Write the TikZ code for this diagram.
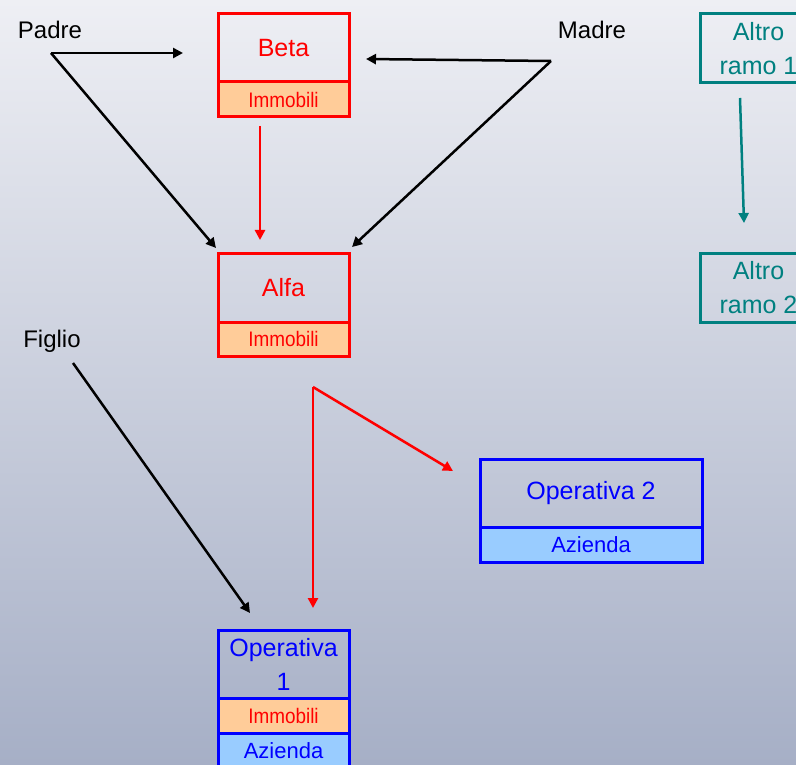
\documentclass[tikz,border=0pt]{standalone}
\usepackage{fontspec}
\setmainfont{Liberation Sans}
\newfontfamily\narrowsans[FakeStretch=0.9]{Liberation Sans}
\usetikzlibrary{arrows.meta}
\definecolor{bgtop}{RGB}{238,239,244}
\definecolor{bgbot}{RGB}{166,175,198}
\definecolor{immfill}{RGB}{255,204,153}
\definecolor{azfill}{RGB}{153,204,255}
\definecolor{tealc}{RGB}{0,128,128}
\tikzset{
  lbl/.style={font=\fontsize{24}{28}\selectfont, text=black},
  part/.style={draw, line width=3pt, inner sep=0pt, align=center},
  bigtxt/.style={font=\fontsize{25}{34}\selectfont},
  smalltxt/.style={font=\narrowsans\fontsize{21}{24}\selectfont},
  midtxt/.style={font=\fontsize{22}{26}\selectfont},
  redbox/.style={part, draw=red, text=red},
  bluebox/.style={part, draw=blue, text=blue},
  tealbox/.style={part, draw=tealc, text=tealc, bigtxt},
  immo/.style={smalltxt, fill=immfill, text=red},
  azi/.style={midtxt, fill=azfill, text=blue},
  conn/.style={line width=2.5pt, -{Triangle[length=10pt,width=10pt]}},
}
\begin{document}
\begin{tikzpicture}[x=1pt,y=-1pt]
  \useasboundingbox (0,0) rectangle (796,765);
  \clip (0,0) rectangle (796,765);
  \fill[top color=bgtop, bottom color=bgbot] (0,0) rectangle (796,765);

  % people
  \node[lbl, anchor=base] (padre) at (50,39) {Padre};
  \node[lbl, anchor=base] (madre) at (592,39) {Madre};
  \node[lbl, anchor=base] (figlio) at (52,347) {Figlio};

  % Beta
  \node[redbox, bigtxt, minimum width=131pt, minimum height=68pt] (beta) at (283.5,48) {Beta};
  \node[redbox, immo, minimum width=131pt, minimum height=35pt] (betaimm) at (283.5,99.5) {Immobili};

  % Alfa
  \node[redbox, bigtxt, minimum width=131pt, minimum height=69pt] (alfa) at (283.5,287.5) {Alfa};
  \node[redbox, immo, minimum width=131pt, minimum height=34pt] (alfaimm) at (283.5,339) {Immobili};

  % Operativa 2
  \node[bluebox, bigtxt, minimum width=222pt, minimum height=68pt] (op2) at (591,493) {Operativa 2};
  \node[bluebox, azi, minimum width=222pt, minimum height=35pt] (op2az) at (591,544.5) {Azienda};

  % Operativa 1
  \node[bluebox, bigtxt, minimum width=131pt, minimum height=68pt] (op1) at (283.5,664) {Operativa\\1};
  \node[bluebox, immo, minimum width=131pt, minimum height=35pt] (op1imm) at (283.5,715.5) {Immobili};
  \node[bluebox, azi, minimum width=131pt, minimum height=35pt] (op1az) at (283.5,750.5) {Azienda};

  % other branches
  \node[tealbox, minimum width=117pt, minimum height=69pt] (ramo1) at (758.5,48.5) {Altro\\ramo 1};
  \node[tealbox, minimum width=117pt, minimum height=69pt] (ramo2) at (758.5,287.5) {Altro\\ramo 2};

  % connector end points
  \coordinate (pA) at (51,53);
  \coordinate (pB) at (183,53);
  \coordinate (pC) at (216,248);
  \coordinate (mA) at (551,61);
  \coordinate (mB) at (366,59);
  \coordinate (mC) at (352,247);
  \coordinate (bA) at (260,126);
  \coordinate (bB) at (260,240);
  \coordinate (aA) at (313,387);
  \coordinate (aB) at (313,608);
  \coordinate (aC) at (453,471);
  \coordinate (fA) at (73,363);
  \coordinate (fB) at (250,613);
  \coordinate (rA) at (740,98);
  \coordinate (rB) at (744,223);

  \draw[conn] (pA) -- (pB);
  \draw[conn] (pA) -- (pC);
  \draw[conn] (mA) -- (mB);
  \draw[conn] (mA) -- (mC);
  \draw[conn] (fA) -- (fB);
  \draw[conn, red] (bA) -- (bB);
  \draw[conn, red] (aA) -- (aB);
  \draw[conn, red] (aA) -- (aC);
  \draw[conn, tealc] (rA) -- (rB);
\end{tikzpicture}
\end{document}
